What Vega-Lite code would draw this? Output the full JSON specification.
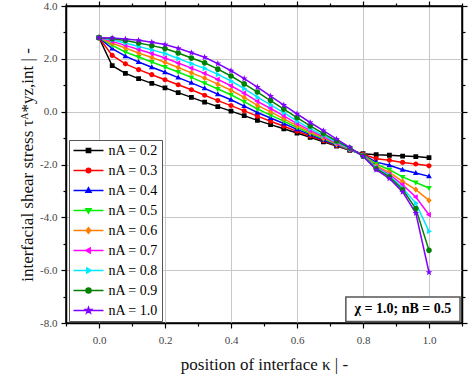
{
  "$schema": "https://vega.github.io/schema/vega-lite/v6.json",
  "width": 396,
  "height": 317,
  "autosize": {"type": "none"},
  "padding": {"left": 66, "top": 6, "right": 12, "bottom": 54},
  "background": "white",
  "config": {
    "view": {"stroke": "#000", "strokeWidth": 1.5},
    "axis": {
      "domainColor": "#000", "domainWidth": 1.5, "tickColor": "#000", "tickWidth": 1.2,
      "labelFont": "Liberation Serif", "labelFontSize": 11, "labelColor": "#444",
      "titleFont": "Liberation Serif", "titleFontSize": 17, "titleFontWeight": "normal", "titleColor": "#111",
      "gridColor": "#c8c8c8", "gridWidth": 1
    },
    "legend": {
      "title": null, "orient": "none", "legendX": 3, "legendY": 134,
      "symbolSize": 100, "symbolStrokeWidth": 1.5, "symbolOffset": 9, "labelOffset": 13,
      "padding": 3.5, "rowPadding": 6, "strokeColor": "#555", "fillColor": "#fff",
      "labelFont": "Liberation Serif", "labelFontSize": 14, "labelColor": "#000"
    }
  },
  "data": {"values": [
    {"n":0.2,"k":0,"t":2.80},{"n":0.2,"k":0.04,"t":1.74},{"n":0.2,"k":0.08,"t":1.45},{"n":0.2,"k":0.12,"t":1.25},{"n":0.2,"k":0.16,"t":1.07},{"n":0.2,"k":0.2,"t":0.90},{"n":0.2,"k":0.24,"t":0.72},{"n":0.2,"k":0.28,"t":0.54},{"n":0.2,"k":0.32,"t":0.36},{"n":0.2,"k":0.36,"t":0.19},{"n":0.2,"k":0.4,"t":0.02},{"n":0.2,"k":0.44,"t":-0.15},{"n":0.2,"k":0.48,"t":-0.33},{"n":0.2,"k":0.52,"t":-0.49},{"n":0.2,"k":0.56,"t":-0.65},{"n":0.2,"k":0.6,"t":-0.81},{"n":0.2,"k":0.64,"t":-0.97},{"n":0.2,"k":0.68,"t":-1.14},{"n":0.2,"k":0.72,"t":-1.30},{"n":0.2,"k":0.76,"t":-1.46},{"n":0.2,"k":0.8,"t":-1.59},{"n":0.2,"k":0.84,"t":-1.63},{"n":0.2,"k":0.88,"t":-1.65},{"n":0.2,"k":0.92,"t":-1.68},{"n":0.2,"k":0.96,"t":-1.70},{"n":0.2,"k":1.0,"t":-1.74},
    {"n":0.3,"k":0,"t":2.80},{"n":0.3,"k":0.04,"t":2.13},{"n":0.3,"k":0.08,"t":1.81},{"n":0.3,"k":0.12,"t":1.59},{"n":0.3,"k":0.16,"t":1.40},{"n":0.3,"k":0.2,"t":1.21},{"n":0.3,"k":0.24,"t":1.02},{"n":0.3,"k":0.28,"t":0.83},{"n":0.3,"k":0.32,"t":0.62},{"n":0.3,"k":0.36,"t":0.42},{"n":0.3,"k":0.4,"t":0.23},{"n":0.3,"k":0.44,"t":0.03},{"n":0.3,"k":0.48,"t":-0.17},{"n":0.3,"k":0.52,"t":-0.36},{"n":0.3,"k":0.56,"t":-0.55},{"n":0.3,"k":0.6,"t":-0.74},{"n":0.3,"k":0.64,"t":-0.92},{"n":0.3,"k":0.68,"t":-1.10},{"n":0.3,"k":0.72,"t":-1.28},{"n":0.3,"k":0.76,"t":-1.45},{"n":0.3,"k":0.8,"t":-1.61},{"n":0.3,"k":0.84,"t":-1.78},{"n":0.3,"k":0.88,"t":-1.84},{"n":0.3,"k":0.92,"t":-1.92},{"n":0.3,"k":0.96,"t":-1.98},{"n":0.3,"k":1.0,"t":-2.05},
    {"n":0.4,"k":0,"t":2.80},{"n":0.4,"k":0.04,"t":2.39},{"n":0.4,"k":0.08,"t":2.10},{"n":0.4,"k":0.12,"t":1.88},{"n":0.4,"k":0.16,"t":1.68},{"n":0.4,"k":0.2,"t":1.49},{"n":0.4,"k":0.24,"t":1.29},{"n":0.4,"k":0.28,"t":1.09},{"n":0.4,"k":0.32,"t":0.88},{"n":0.4,"k":0.36,"t":0.66},{"n":0.4,"k":0.4,"t":0.45},{"n":0.4,"k":0.44,"t":0.21},{"n":0.4,"k":0.48,"t":-0.03},{"n":0.4,"k":0.52,"t":-0.24},{"n":0.4,"k":0.56,"t":-0.45},{"n":0.4,"k":0.6,"t":-0.67},{"n":0.4,"k":0.64,"t":-0.87},{"n":0.4,"k":0.68,"t":-1.07},{"n":0.4,"k":0.72,"t":-1.26},{"n":0.4,"k":0.76,"t":-1.44},{"n":0.4,"k":0.8,"t":-1.63},{"n":0.4,"k":0.84,"t":-1.91},{"n":0.4,"k":0.88,"t":-2.03},{"n":0.4,"k":0.92,"t":-2.20},{"n":0.4,"k":0.96,"t":-2.32},{"n":0.4,"k":1.0,"t":-2.45},
    {"n":0.5,"k":0,"t":2.80},{"n":0.5,"k":0.04,"t":2.51},{"n":0.5,"k":0.08,"t":2.26},{"n":0.5,"k":0.12,"t":2.07},{"n":0.5,"k":0.16,"t":1.88},{"n":0.5,"k":0.2,"t":1.69},{"n":0.5,"k":0.24,"t":1.50},{"n":0.5,"k":0.28,"t":1.30},{"n":0.5,"k":0.32,"t":1.08},{"n":0.5,"k":0.36,"t":0.86},{"n":0.5,"k":0.4,"t":0.64},{"n":0.5,"k":0.44,"t":0.38},{"n":0.5,"k":0.48,"t":0.10},{"n":0.5,"k":0.52,"t":-0.13},{"n":0.5,"k":0.56,"t":-0.36},{"n":0.5,"k":0.6,"t":-0.60},{"n":0.5,"k":0.64,"t":-0.82},{"n":0.5,"k":0.68,"t":-1.03},{"n":0.5,"k":0.72,"t":-1.24},{"n":0.5,"k":0.76,"t":-1.43},{"n":0.5,"k":0.8,"t":-1.64},{"n":0.5,"k":0.84,"t":-1.98},{"n":0.5,"k":0.88,"t":-2.20},{"n":0.5,"k":0.92,"t":-2.47},{"n":0.5,"k":0.96,"t":-2.68},{"n":0.5,"k":1.0,"t":-2.89},
    {"n":0.6,"k":0,"t":2.80},{"n":0.6,"k":0.04,"t":2.59},{"n":0.6,"k":0.08,"t":2.41},{"n":0.6,"k":0.12,"t":2.22},{"n":0.6,"k":0.16,"t":2.05},{"n":0.6,"k":0.2,"t":1.87},{"n":0.6,"k":0.24,"t":1.67},{"n":0.6,"k":0.28,"t":1.47},{"n":0.6,"k":0.32,"t":1.27},{"n":0.6,"k":0.36,"t":1.04},{"n":0.6,"k":0.4,"t":0.81},{"n":0.6,"k":0.44,"t":0.54},{"n":0.6,"k":0.48,"t":0.24},{"n":0.6,"k":0.52,"t":-0.01},{"n":0.6,"k":0.56,"t":-0.27},{"n":0.6,"k":0.6,"t":-0.53},{"n":0.6,"k":0.64,"t":-0.77},{"n":0.6,"k":0.68,"t":-0.99},{"n":0.6,"k":0.72,"t":-1.22},{"n":0.6,"k":0.76,"t":-1.42},{"n":0.6,"k":0.8,"t":-1.65},{"n":0.6,"k":0.84,"t":-2.05},{"n":0.6,"k":0.88,"t":-2.30},{"n":0.6,"k":0.92,"t":-2.64},{"n":0.6,"k":0.96,"t":-2.95},{"n":0.6,"k":1.0,"t":-3.36},
    {"n":0.7,"k":0,"t":2.80},{"n":0.7,"k":0.04,"t":2.66},{"n":0.7,"k":0.08,"t":2.51},{"n":0.7,"k":0.12,"t":2.35},{"n":0.7,"k":0.16,"t":2.20},{"n":0.7,"k":0.2,"t":2.03},{"n":0.7,"k":0.24,"t":1.84},{"n":0.7,"k":0.28,"t":1.65},{"n":0.7,"k":0.32,"t":1.45},{"n":0.7,"k":0.36,"t":1.22},{"n":0.7,"k":0.4,"t":0.98},{"n":0.7,"k":0.44,"t":0.70},{"n":0.7,"k":0.48,"t":0.39},{"n":0.7,"k":0.52,"t":0.12},{"n":0.7,"k":0.56,"t":-0.16},{"n":0.7,"k":0.6,"t":-0.45},{"n":0.7,"k":0.64,"t":-0.71},{"n":0.7,"k":0.68,"t":-0.95},{"n":0.7,"k":0.72,"t":-1.19},{"n":0.7,"k":0.76,"t":-1.41},{"n":0.7,"k":0.8,"t":-1.66},{"n":0.7,"k":0.84,"t":-2.10},{"n":0.7,"k":0.88,"t":-2.37},{"n":0.7,"k":0.92,"t":-2.77},{"n":0.7,"k":0.96,"t":-3.23},{"n":0.7,"k":1.0,"t":-3.90},
    {"n":0.8,"k":0,"t":2.80},{"n":0.8,"k":0.04,"t":2.72},{"n":0.8,"k":0.08,"t":2.60},{"n":0.8,"k":0.12,"t":2.47},{"n":0.8,"k":0.16,"t":2.34},{"n":0.8,"k":0.2,"t":2.20},{"n":0.8,"k":0.24,"t":2.01},{"n":0.8,"k":0.28,"t":1.82},{"n":0.8,"k":0.32,"t":1.64},{"n":0.8,"k":0.36,"t":1.41},{"n":0.8,"k":0.4,"t":1.16},{"n":0.8,"k":0.44,"t":0.87},{"n":0.8,"k":0.48,"t":0.55},{"n":0.8,"k":0.52,"t":0.26},{"n":0.8,"k":0.56,"t":-0.04},{"n":0.8,"k":0.6,"t":-0.36},{"n":0.8,"k":0.64,"t":-0.64},{"n":0.8,"k":0.68,"t":-0.90},{"n":0.8,"k":0.72,"t":-1.16},{"n":0.8,"k":0.76,"t":-1.40},{"n":0.8,"k":0.8,"t":-1.67},{"n":0.8,"k":0.84,"t":-2.12},{"n":0.8,"k":0.88,"t":-2.42},{"n":0.8,"k":0.92,"t":-2.89},{"n":0.8,"k":0.96,"t":-3.46},{"n":0.8,"k":1.0,"t":-4.53},
    {"n":0.9,"k":0,"t":2.80},{"n":0.9,"k":0.04,"t":2.76},{"n":0.9,"k":0.08,"t":2.69},{"n":0.9,"k":0.12,"t":2.60},{"n":0.9,"k":0.16,"t":2.50},{"n":0.9,"k":0.2,"t":2.39},{"n":0.9,"k":0.24,"t":2.22},{"n":0.9,"k":0.28,"t":2.03},{"n":0.9,"k":0.32,"t":1.85},{"n":0.9,"k":0.36,"t":1.61},{"n":0.9,"k":0.4,"t":1.35},{"n":0.9,"k":0.44,"t":1.05},{"n":0.9,"k":0.48,"t":0.74},{"n":0.9,"k":0.52,"t":0.42},{"n":0.9,"k":0.56,"t":0.10},{"n":0.9,"k":0.6,"t":-0.23},{"n":0.9,"k":0.64,"t":-0.54},{"n":0.9,"k":0.68,"t":-0.83},{"n":0.9,"k":0.72,"t":-1.11},{"n":0.9,"k":0.76,"t":-1.38},{"n":0.9,"k":0.8,"t":-1.68},{"n":0.9,"k":0.84,"t":-2.16},{"n":0.9,"k":0.88,"t":-2.47},{"n":0.9,"k":0.92,"t":-2.95},{"n":0.9,"k":0.96,"t":-3.67},{"n":0.9,"k":1.0,"t":-5.25},
    {"n":1.0,"k":0,"t":2.80},{"n":1.0,"k":0.04,"t":2.79},{"n":1.0,"k":0.08,"t":2.75},{"n":1.0,"k":0.12,"t":2.70},{"n":1.0,"k":0.16,"t":2.63},{"n":1.0,"k":0.2,"t":2.54},{"n":1.0,"k":0.24,"t":2.40},{"n":1.0,"k":0.28,"t":2.23},{"n":1.0,"k":0.32,"t":2.06},{"n":1.0,"k":0.36,"t":1.82},{"n":1.0,"k":0.4,"t":1.55},{"n":1.0,"k":0.44,"t":1.25},{"n":1.0,"k":0.48,"t":0.93},{"n":1.0,"k":0.52,"t":0.59},{"n":1.0,"k":0.56,"t":0.25},{"n":1.0,"k":0.6,"t":-0.08},{"n":1.0,"k":0.64,"t":-0.41},{"n":1.0,"k":0.68,"t":-0.72},{"n":1.0,"k":0.72,"t":-1.04},{"n":1.0,"k":0.76,"t":-1.35},{"n":1.0,"k":0.8,"t":-1.69},{"n":1.0,"k":0.84,"t":-2.20},{"n":1.0,"k":0.88,"t":-2.53},{"n":1.0,"k":0.92,"t":-3.04},{"n":1.0,"k":0.96,"t":-3.84},{"n":1.0,"k":1.0,"t":-6.08}
  ]},
  "layer": [
    {
      "mark": {"type": "line", "strokeWidth": 1.5},
      "encoding": {
        "x": {"field": "k", "type": "quantitative",
          "scale": {"domain": [-0.1, 1.1], "nice": false, "zero": false},
          "axis": {"values": [-0.1,0,0.1,0.2,0.3,0.4,0.5,0.6,0.7,0.8,0.9,1.0,1.1],
            "labelExpr": "abs(round(datum.value*10)) % 2 == 0 ? format(datum.value, '.1f') : ''",
            "tickSize": {"condition": {"test": "abs(round(datum.value*10)) % 2 == 1", "value": 3}, "value": 5},
            "gridColor": {"condition": {"test": "abs(round(datum.value*10)) % 2 == 1", "value": "transparent"}, "value": "#c8c8c8"},
            "grid": true, "labelPadding": 6, "titlePadding": 11,
            "title": "position of interface κ  |  -"}},
        "y": {"field": "t", "type": "quantitative",
          "scale": {"domain": [-8, 4], "nice": false, "zero": false},
          "axis": {"values": [-8,-7,-6,-5,-4,-3,-2,-1,0,1,2,3,4],
            "labelExpr": "abs(datum.value) % 2 == 0 ? replace(format(datum.value, '.1f'), '−', '-') : ''",
            "tickSize": {"condition": {"test": "abs(datum.value) % 2 == 1", "value": 3}, "value": 5},
            "gridColor": {"condition": {"test": "abs(datum.value) % 2 == 1", "value": "transparent"}, "value": "#c8c8c8"},
            "grid": true, "labelPadding": 4, "titlePadding": 3,
            "title": "interfacial shear stress τᴬ*yz,int  |  -"}},
        "color": {"field": "n", "type": "nominal",
          "scale": {"domain": [0.2,0.3,0.4,0.5,0.6,0.7,0.8,0.9,1.0],
            "range": ["#000000","#ff0000","#0000ff","#00ee00","#ff8000","#ff00ff","#00e8ff","#008000","#8000ff"]},
          "legend": {"labelExpr": "'nA = ' + format(datum.value, '.1f')"}}
      }
    },
    {
      "mark": {"type": "point", "filled": true, "size": 130, "strokeWidth": 0, "opacity": 1},
      "encoding": {
        "x": {"field": "k", "type": "quantitative",
          "axis": {"orient": "top", "labels": false, "title": null, "grid": false,
            "values": [-0.1,0,0.1,0.2,0.3,0.4,0.5,0.6,0.7,0.8,0.9,1.0,1.1],
            "tickSize": {"condition": {"test": "abs(round(datum.value*10)) % 2 == 1", "value": 3}, "value": 5}}},
        "y": {"field": "t", "type": "quantitative",
          "axis": {"orient": "right", "labels": false, "title": null, "grid": false,
            "values": [-8,-7,-6,-5,-4,-3,-2,-1,0,1,2,3,4],
            "tickSize": {"condition": {"test": "abs(datum.value) % 2 == 1", "value": 3}, "value": 5}}},
        "color": {"field": "n", "type": "nominal",
          "legend": {"labelExpr": "'nA = ' + format(datum.value, '.1f')"}},
        "stroke": {"field": "n", "type": "nominal",
          "scale": {"domain": [0.2,0.3,0.4,0.5,0.6,0.7,0.8,0.9,1.0],
            "range": ["#000000","#ff0000","#0000ff","#00ee00","#ff8000","#ff00ff","#00e8ff","#008000","#8000ff"]},
          "legend": {"labelExpr": "'nA = ' + format(datum.value, '.1f')"}},
        "shape": {"field": "n", "type": "nominal",
          "scale": {"domain": [0.2,0.3,0.4,0.5,0.6,0.7,0.8,0.9,1.0],
            "range": [
              "M-3,0H3M-0.42,-0.42H0.42V0.42H-0.42Z",
              "M-3,0H3M-0.45,0A0.45,0.45 0 1,0 0.45,0A0.45,0.45 0 1,0 -0.45,0Z",
              "M-3,0H3M0,-0.54L0.5,0.34L-0.5,0.34Z",
              "M-3,0H3M0,0.54L0.5,-0.34L-0.5,-0.34Z",
              "M-3,0H3M0,-0.56L0.45,0L0,0.56L-0.45,0Z",
              "M-3,0H3M-0.54,0L0.34,-0.5L0.34,0.5Z",
              "M-3,0H3M0.54,0L-0.34,-0.5L-0.34,0.5Z",
              "M-3,0H3M-0.5,0A0.5,0.5 0 1,0 0.5,0A0.5,0.5 0 1,0 -0.5,0Z",
              "M-3,0H3M0,-0.62L0.15,-0.2L0.59,-0.19L0.24,0.08L0.37,0.5L0,0.25L-0.37,0.5L-0.24,0.08L-0.59,-0.19L-0.15,-0.2Z"
            ]},
          "legend": {"labelExpr": "'nA = ' + format(datum.value, '.1f')"}}
      }
    },
    {
      "data": {"values": [{"label": "χ = 1.0; nB = 0.5"}]},
      "mark": {"type": "rect", "fill": "white", "stroke": "#555", "strokeWidth": 1.5},
      "encoding": {
        "x": {"datum": 0.748, "type": "quantitative", "axis": null},
        "x2": {"datum": 1.094},
        "y": {"datum": -7.02, "type": "quantitative", "axis": null},
        "y2": {"datum": -7.94}
      }
    },
    {
      "data": {"values": [{"label": "χ = 1.0; nB = 0.5"}]},
      "mark": {"type": "text", "font": "Liberation Serif", "fontSize": 14, "fontWeight": "bold", "color": "#000", "align": "center", "baseline": "middle"},
      "encoding": {
        "x": {"datum": 0.921, "type": "quantitative", "axis": null},
        "y": {"datum": -7.48, "type": "quantitative", "axis": null},
        "text": {"field": "label"}
      }
    }
  ],
  "resolve": {"axis": {"x": "independent", "y": "independent"}}
}
